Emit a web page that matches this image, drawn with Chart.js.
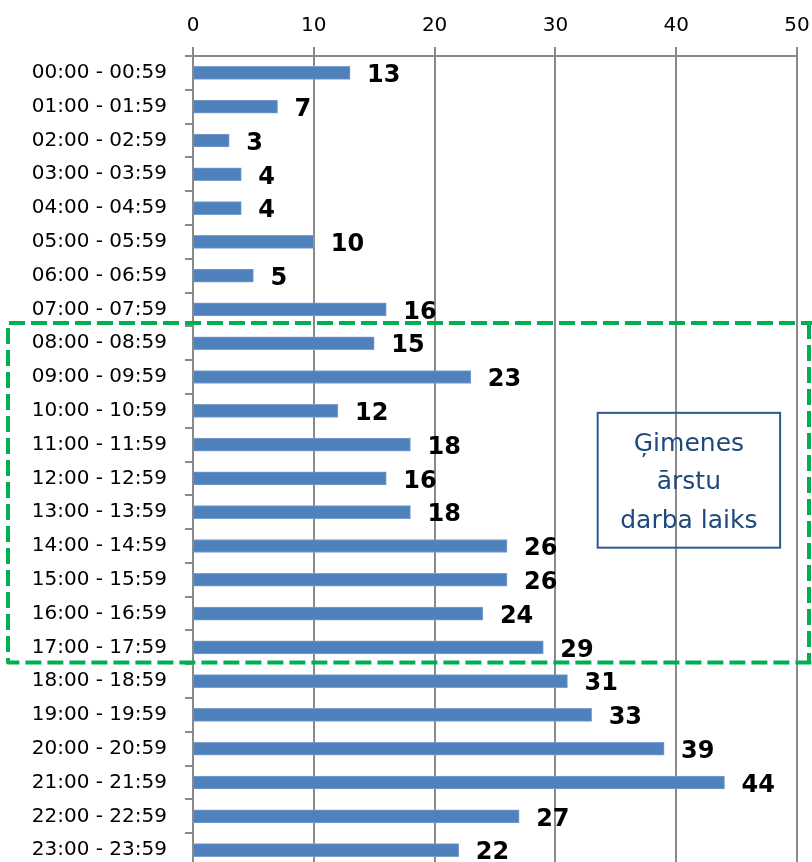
<!DOCTYPE html>
<html>
<head>
<meta charset="utf-8">
<script src="https://cdn.jsdelivr.net/npm/chart.js@4/dist/chart.umd.min.js"></script>
<style>
  html, body { margin: 0; padding: 0; background: #fff; overflow: hidden; }
  canvas { display: block; }
</style>
</head>
<body>
<canvas id="grafiks" width="812" height="868"></canvas>
<script>
// stundu intervāli (kategorijas)
const stundas = [
  "00:00 - 00:59", "01:00 - 01:59", "02:00 - 02:59", "03:00 - 03:59",
  "04:00 - 04:59", "05:00 - 05:59", "06:00 - 06:59", "07:00 - 07:59",
  "08:00 - 08:59", "09:00 - 09:59", "10:00 - 10:59", "11:00 - 11:59",
  "12:00 - 12:59", "13:00 - 13:59", "14:00 - 14:59", "15:00 - 15:59",
  "16:00 - 16:59", "17:00 - 17:59", "18:00 - 18:59", "19:00 - 19:59",
  "20:00 - 20:59", "21:00 - 21:59", "22:00 - 22:59", "23:00 - 23:59"
];
// izsaukumu skaits katrā stundā
const skaits = [13, 7, 3, 4, 4, 10, 5, 16, 15, 23, 12, 18, 16, 18, 26, 26, 24, 29, 31, 33, 39, 44, 27, 22];
// x ass robežas
const xMin = 0;
const xMax = 50;
const xSolis = 10;
// ģimenes ārstu darba laika intervāls (pirmā un pēdējā kategorija)
const darbaSakums = "08:00 - 08:59";
const darbaBeigas = "17:00 - 17:59";
const uzraksts = ["Ģimenes", "ārstu", "darba laiks"];

const pelek = "#8a8a8a";

// vērtības pie stabiņiem
const vertibuPlugin = {
  id: "vertibas",
  afterDatasetsDraw(chart) {
    const ctx = chart.ctx;
    const meta = chart.getDatasetMeta(0);
    ctx.save();
    ctx.font = "bold 24px 'DejaVu Sans'";
    ctx.fillStyle = "#000";
    ctx.textAlign = "left";
    ctx.textBaseline = "middle";
    meta.data.forEach((bar, i) => {
      ctx.fillText(String(skaits[i]), bar.x + 17, bar.y + 3);
    });
    ctx.restore();
  }
};

// zaļais rāmis un teksta lodziņš
const ramjaPlugin = {
  id: "ramis",
  afterDraw(chart) {
    const ctx = chart.ctx;
    const y = chart.scales.y;
    const x = chart.scales.x;
    const iS = stundas.indexOf(darbaSakums);
    const iB = stundas.indexOf(darbaBeigas);
    const augsa = y.getPixelForValue(iS - 0.6);
    const apaksa = y.getPixelForValue(iB + 0.45);

    ctx.save();
    ctx.strokeStyle = "#00B050";
    ctx.lineWidth = 4;
    ctx.setLineDash([16, 6]);
    ctx.lineJoin = "round";
    ctx.beginPath();
    ctx.moveTo(chart.width + 5, augsa);
    ctx.lineTo(8, augsa);
    ctx.lineTo(8, apaksa);
    ctx.lineTo(chart.width + 5, apaksa);
    ctx.stroke();
    ctx.beginPath();
    ctx.moveTo(chart.width - 3, augsa);
    ctx.lineTo(chart.width - 3, apaksa);
    ctx.stroke();
    ctx.restore();

    // teksta lodziņš
    const l = x.getPixelForValue(33.5);
    const r = x.getPixelForValue(48.6);
    const t = y.getPixelForValue(10.06);
    const b = y.getPixelForValue(14.05);
    ctx.save();
    ctx.strokeStyle = "#2E5A8E";
    ctx.lineWidth = 2;
    ctx.strokeRect(l, t, r - l, b - t);
    ctx.fillStyle = "#1F497D";
    ctx.font = "25px 'DejaVu Sans'";
    ctx.textAlign = "center";
    ctx.textBaseline = "middle";
    const cx = (l + r) / 2;
    const cy = (t + b) / 2 + 2.5;
    uzraksts.forEach((rinda, i) => {
      ctx.fillText(rinda, cx, cy + (i - 1) * 38.5);
    });
    ctx.restore();
  }
};

new Chart(document.getElementById("grafiks"), {
  type: "bar",
  data: {
    labels: stundas,
    datasets: [{
      data: skaits,
      backgroundColor: "#4F81BD",
      borderColor: "#7C9FCD",
      borderWidth: 1,
      borderSkipped: "start",
      barThickness: 13
    }]
  },
  options: {
    indexAxis: "y",
    responsive: false,
    animation: false,
    layout: { padding: { left: 0, right: 15, top: 0, bottom: 1 } },
    plugins: {
      legend: { display: false },
      tooltip: { enabled: false }
    },
    scales: {
      x: {
        position: "top",
        min: xMin,
        max: xMax,
        ticks: {
          stepSize: xSolis,
          padding: 9,
          color: "#000",
          font: { family: "'DejaVu Sans'", size: 20 }
        },
        grid: { color: pelek, lineWidth: 2, tickLength: 9, drawTicks: true },
        border: { display: true, color: pelek, width: 2 },
        afterFit(scale) {
          scale.height = 56;
          scale.paddingLeft = 0;
          scale.paddingRight = 0;
        }
      },
      y: {
        ticks: {
          padding: 18,
          color: "#000",
          autoSkip: false,
          font: { family: "'DejaVu Sans'", size: 20 }
        },
        grid: { drawOnChartArea: false, drawTicks: true, tickLength: 8, color: pelek, lineWidth: 2 },
        border: { display: true, color: pelek, width: 2 },
        afterFit(scale) {
          scale.width = 193;
          scale.paddingTop = 0;
          scale.paddingBottom = 0;
        }
      }
    }
  },
  plugins: [vertibuPlugin, ramjaPlugin]
});
</script>
</body>
</html>
